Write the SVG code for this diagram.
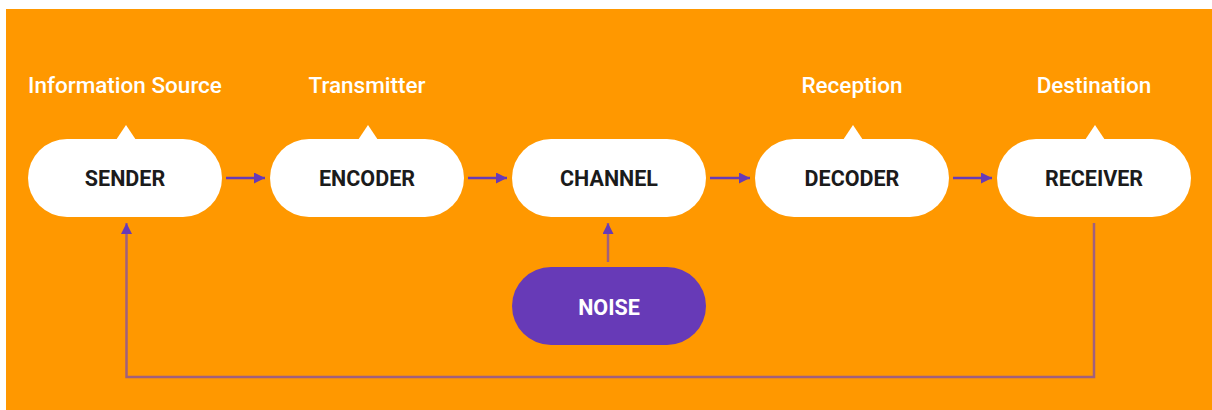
<svg xmlns="http://www.w3.org/2000/svg" width="1212" height="410" viewBox="0 0 1212 410">
  <defs>
    <marker id="arrow" viewBox="0 0 10 10" refX="10" refY="5" markerWidth="12" markerHeight="11" markerUnits="userSpaceOnUse" orient="auto">
      <path d="M0,0 L10,5 L0,10 Z" fill="#673AB7"/>
    </marker>
    <style>
      .stage { fill: #ffffff; }
      .stage-label { font-family: Roboto, "Liberation Sans", sans-serif; font-weight: 700; font-size: 21.5px; fill: #1b1b1b; text-anchor: middle; }
      .role { font-family: Roboto, "Liberation Sans", sans-serif; font-weight: 500; font-size: 22.5px; fill: #ffffff; text-anchor: middle; }
      .link { fill: none; stroke: #673AB7; stroke-width: 2.5; }
      .feedback { fill: none; stroke: #a0607e; stroke-width: 2.5; }
    </style>
  </defs>

  <!-- backdrop -->
  <rect x="6" y="9" width="1206" height="401" fill="#FF9800"/>

  <!-- role captions above the stages -->
  <text class="role" x="125" y="93">Information Source</text>
  <text class="role" x="367" y="93">Transmitter</text>
  <text class="role" x="852" y="93">Reception</text>
  <text class="role" x="1094" y="93">Destination</text>

  <g id="sender">
    <path class="stage" d="M116,140 L126,125 L136,140 Z"/>
    <rect class="stage" x="28" y="139" width="194" height="78" rx="39"/>
    <text class="stage-label" x="125" y="186">SENDER</text>
  </g>

  <g id="encoder">
    <path class="stage" d="M358,140 L368,125 L378,140 Z"/>
    <rect class="stage" x="270" y="139" width="194" height="78" rx="39"/>
    <text class="stage-label" x="367" y="186">ENCODER</text>
  </g>

  <g id="channel">
    <rect class="stage" x="512" y="139" width="194" height="78" rx="39"/>
    <text class="stage-label" x="609" y="186">CHANNEL</text>
  </g>

  <g id="decoder">
    <path class="stage" d="M843,140 L853,125 L863,140 Z"/>
    <rect class="stage" x="755" y="139" width="194" height="78" rx="39"/>
    <text class="stage-label" x="852" y="186">DECODER</text>
  </g>

  <g id="receiver">
    <path class="stage" d="M1085,140 L1095,125 L1105,140 Z"/>
    <rect class="stage" x="997" y="139" width="194" height="78" rx="39"/>
    <text class="stage-label" x="1094" y="186">RECEIVER</text>
  </g>

  <g id="noise">
    <rect x="512" y="267" width="194" height="78" rx="39" fill="#673AB7"/>
    <text class="stage-label" x="609" y="315" style="fill:#ffffff">NOISE</text>
  </g>

  <g id="connectors">
    <line class="link" x1="226" y1="178" x2="265" y2="178" marker-end="url(#arrow)"/>
    <line class="link" x1="468" y1="178" x2="507" y2="178" marker-end="url(#arrow)"/>
    <line class="link" x1="710" y1="178" x2="750" y2="178" marker-end="url(#arrow)"/>
    <line class="link" x1="953" y1="178" x2="992" y2="178" marker-end="url(#arrow)"/>
    <line class="feedback" x1="608" y1="262" x2="608" y2="223" marker-end="url(#arrow)"/>
    <polyline class="feedback" points="1094,223 1094,377 126.5,377 126.5,223" marker-end="url(#arrow)"/>
  </g>
</svg>
